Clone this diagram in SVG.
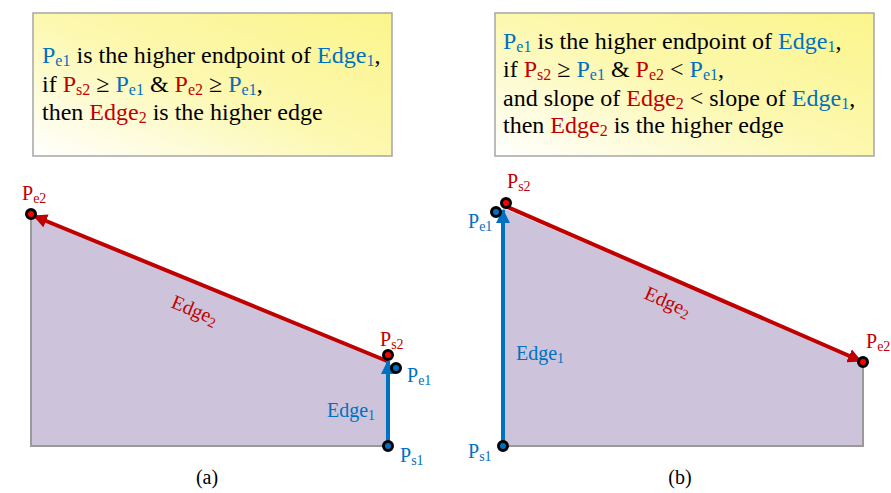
<svg xmlns="http://www.w3.org/2000/svg" width="891" height="493" viewBox="0 0 891 493" font-family="'Liberation Serif', 'Times New Roman', 'DejaVu Serif', serif">
<style>
text{font-family:'Liberation Serif','Times New Roman','DejaVu Serif',serif;fill:#000}
.box{stroke:#a6a6a6;stroke-width:1.5;fill:url(#yg)}
.main{font-size:24px}
.lbl{font-size:20px}
.b{fill:#0070C0}
.r{fill:#C00000}
.poly{fill:#cdc4dc;stroke:none}
.gray{stroke:#9a9a9a;stroke-width:2;fill:none}
.red{stroke:#C00000;stroke-width:4;fill:none}
.blue{stroke:#0070C0;stroke-width:4;fill:none}
.pt{stroke:#000;stroke-width:3}
.pr{fill:#ff0000}
.pb{fill:#0070C0}
</style>
<defs>
<linearGradient id="yg" x1="0" y1="1" x2="1" y2="0">
<stop offset="0" stop-color="#ffffff"/>
<stop offset="0.5" stop-color="#fcf8ae"/>
<stop offset="1" stop-color="#fbf58c"/>
</linearGradient>
<marker id="ar" markerUnits="userSpaceOnUse" markerWidth="16" markerHeight="14" refX="13" refY="7" orient="auto">
<path d="M0,0 L14,7 L0,14 Z" fill="#C00000"/>
</marker>
<marker id="ab" markerUnits="userSpaceOnUse" markerWidth="16" markerHeight="14" refX="13" refY="7" orient="auto">
<path d="M0,0 L14,7 L0,14 Z" fill="#0070C0"/>
</marker>
</defs>

<g id="box-a">
<rect class="box" x="33" y="13" width="359" height="143"/>
<text class="main" x="42" y="63"><tspan class="b">P<tspan font-size="16" dy="3">e1</tspan></tspan><tspan dy="-3"> is the higher endpoint of </tspan><tspan class="b">Edge<tspan font-size="16" dy="3">1</tspan></tspan><tspan dy="-3">,</tspan></text>
<text class="main" x="42" y="92">if <tspan class="r">P<tspan font-size="16" dy="3">s2</tspan></tspan><tspan dy="-3"> ≥ </tspan><tspan class="b">P<tspan font-size="16" dy="3">e1</tspan></tspan><tspan dy="-3"> &amp; </tspan><tspan class="r">P<tspan font-size="16" dy="3">e2</tspan></tspan><tspan dy="-3"> ≥ </tspan><tspan class="b">P<tspan font-size="16" dy="3">e1</tspan></tspan><tspan dy="-3">,</tspan></text>
<text class="main" x="42" y="120">then <tspan class="r">Edge<tspan font-size="16" dy="3">2</tspan></tspan><tspan dy="-3"> is the higher edge</tspan></text>
</g>

<g id="box-b">
<rect class="box" x="495" y="13" width="379" height="143"/>
<text class="main" x="503" y="49"><tspan class="b">P<tspan font-size="16" dy="3">e1</tspan></tspan><tspan dy="-3"> is the higher endpoint of </tspan><tspan class="b">Edge<tspan font-size="16" dy="3">1</tspan></tspan><tspan dy="-3">,</tspan></text>
<text class="main" x="503" y="77">if <tspan class="r">P<tspan font-size="16" dy="3">s2</tspan></tspan><tspan dy="-3"> ≥ </tspan><tspan class="b">P<tspan font-size="16" dy="3">e1</tspan></tspan><tspan dy="-3"> &amp; </tspan><tspan class="r">P<tspan font-size="16" dy="3">e2</tspan></tspan><tspan dy="-3"> &lt; </tspan><tspan class="b">P<tspan font-size="16" dy="3">e1</tspan></tspan><tspan dy="-3">,</tspan></text>
<text class="main" x="503" y="106">and slope of <tspan class="r">Edge<tspan font-size="16" dy="3">2</tspan></tspan><tspan dy="-3"> &lt; slope of </tspan><tspan class="b">Edge<tspan font-size="16" dy="3">1</tspan></tspan><tspan dy="-3">,</tspan></text>
<text class="main" x="503" y="133">then <tspan class="r">Edge<tspan font-size="16" dy="3">2</tspan></tspan><tspan dy="-3"> is the higher edge</tspan></text>
</g>

<g id="region-a">
<polygon class="poly" points="31,214 388,362 388,446 31,446"/>
<polyline class="gray" points="31,214 31,446 388,446"/>
</g>
<g id="region-b">
<polygon class="poly" points="503,208 863,362 863,446 503,446"/>
<polyline class="gray" points="863,362 863,446 503,446"/>
</g>

<g id="connectors">
<line id="edge2-a" class="red" x1="387" y1="361" x2="34" y2="216" marker-end="url(#ar)"/>
<line id="edge1-a" class="blue" x1="388" y1="446" x2="388" y2="361" marker-end="url(#ab)"/>
<line id="edge2-b" class="red" x1="505" y1="206" x2="861" y2="361" marker-end="url(#ar)"/>
<line id="edge1-b" class="blue" x1="503" y1="446" x2="503" y2="210" marker-end="url(#ab)"/>
</g>

<g id="points-a">
<circle class="pt pr" cx="31" cy="214" r="4.5"/>
<circle class="pt pr" cx="388" cy="355" r="4.5"/>
<circle class="pt pb" cx="396" cy="368" r="4.5"/>
<circle class="pt pb" cx="388" cy="446" r="4.5"/>
</g>
<g id="points-b">
<circle class="pt pb" cx="496" cy="212" r="4.5"/>
<circle class="pt pr" cx="506" cy="203" r="4.5"/>
<circle class="pt pb" cx="503" cy="446" r="4.5"/>
<circle class="pt pr" cx="863" cy="362" r="4.5"/>
</g>

<g id="labels-a">
<text class="lbl r" x="22" y="200">P<tspan font-size="14" dy="3">e2</tspan></text>
<text class="lbl r" x="380" y="346">P<tspan font-size="14" dy="3">s2</tspan></text>
<text class="lbl b" x="407" y="382">P<tspan font-size="14" dy="3">e1</tspan></text>
<text class="lbl b" x="400" y="462">P<tspan font-size="14" dy="3">s1</tspan></text>
<text class="lbl b" x="327" y="417">Edge<tspan font-size="14" dy="3">1</tspan></text>
<text class="lbl r" transform="translate(170,307) rotate(22.5)">Edge<tspan font-size="14" dy="3">2</tspan></text>
<text class="lbl" x="207" y="484" text-anchor="middle" font-size="21">(a)</text>
</g>
<g id="labels-b">
<text class="lbl r" x="507" y="188">P<tspan font-size="14" dy="3">s2</tspan></text>
<text class="lbl b" x="468" y="228">P<tspan font-size="14" dy="3">e1</tspan></text>
<text class="lbl b" x="468" y="458">P<tspan font-size="14" dy="3">s1</tspan></text>
<text class="lbl b" x="516" y="360">Edge<tspan font-size="14" dy="3">1</tspan></text>
<text class="lbl r" x="866" y="348">P<tspan font-size="14" dy="3">e2</tspan></text>
<text class="lbl r" transform="translate(643,298) rotate(23.6)">Edge<tspan font-size="14" dy="3">2</tspan></text>
<text class="lbl" x="680" y="484" text-anchor="middle" font-size="21">(b)</text>
</g>
</svg>
